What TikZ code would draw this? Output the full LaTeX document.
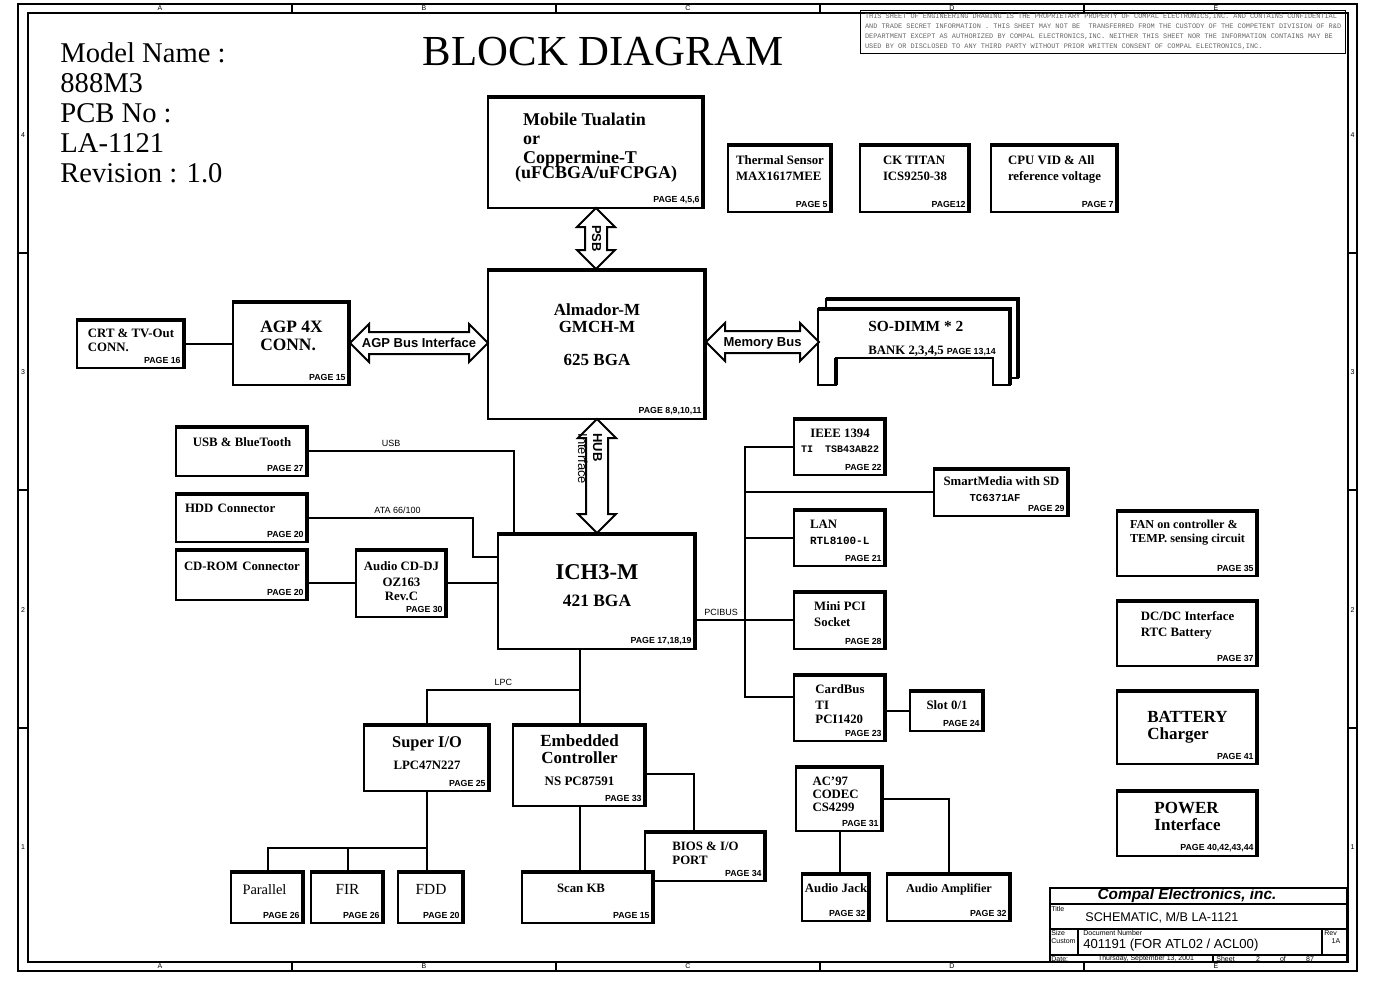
\documentclass[tikz,border=0pt]{standalone}
\usepackage{fontspec}
\setmainfont{Liberation Serif}
\setsansfont{Liberation Sans}
\setmonofont{Liberation Mono}
\usetikzlibrary{positioning, calc, shapes.arrows}

\begin{document}
\begin{tikzpicture}[x=0.5pt, y=-0.5pt,
    blk/.style={rectangle, draw=black, line width=1pt, fill=white, inner sep=0pt,
                align=left, font={\bfseries\fontsize{6.4}{8}\selectfont},
                path picture={\draw[line width=3pt]
                  (path picture bounding box.north west) -- (path picture bounding box.north east)
                  -- (path picture bounding box.south east);}},
    wh/.style 2 args={minimum width=#1*0.5pt, minimum height=#2*0.5pt, anchor=north west},
    pg/.style={anchor=south east, inner sep=2.5pt, font={\sffamily\bfseries\fontsize{4.4}{5}\selectfont}},
    wire/.style={line width=1pt},
    bus/.style={double arrow, draw=black, line width=1pt, fill=white,
                double arrow head extend=4pt, inner xsep=0pt, inner ysep=2pt,
                text height=5pt, text depth=1pt,
                font={\sffamily\bfseries\fontsize{6.5}{7}\selectfont}},
    sig/.style={inner sep=1.5pt, font={\sffamily\fontsize{4.5}{5}\selectfont}},
    tbtxt/.style={inner sep=0pt, font={\sffamily\fontsize{3.5}{4}\selectfont}}
]
\useasboundingbox (0,0) rectangle (1400,990);

% sheet frame
\draw[line width=0.6pt] (18,4) rectangle (1357,971);
\draw[line width=0.6pt] (28,13) rectangle (1348,962);
\foreach \x/\zl in {160/A,424/B,688/C,952/D,1216/E} {
  \node[tbtxt] (top\zl) at (\x,8.5) {\zl};
  \node[tbtxt] (bot\zl) at (\x,966.5) {\zl};
}
\foreach \x in {292,556,820,1084} {
  \draw[line width=0.6pt] (\x,4) -- (\x,13) (\x,962) -- (\x,971);
}
\foreach \y/\zl in {135/4,372/3,610/2,847/1} {
  \node[tbtxt] (lft\zl) at (23,\y) {\zl};
  \node[tbtxt] (rgt\zl) at (1352.5,\y) {\zl};
}
\foreach \y in {253,490,728} {
  \draw[line width=0.6pt] (18,\y) -- (28,\y) (1348,\y) -- (1357,\y);
}

\node[anchor=north west, align=left, inner sep=0pt, font={\fontsize{14.3}{15}\selectfont}] (model) at (60,42)
  {Model Name :\\888M3\\PCB No :\\LA-1121\\Revision : 1.0};
\node[inner sep=0pt, font={\fontsize{21.4}{22}\selectfont}] (title) at (603,52) {BLOCK DIAGRAM};
\node[draw, line width=0.6pt, wh={485}{43}, align=left, inner sep=0pt, text=black!60,
      font={\ttfamily\fontsize{3.45}{5}\selectfont}] (notice) at (860,10) {%
  THIS SHEET OF ENGINEERING DRAWING IS THE PROPRIETARY PROPERTY OF COMPAL ELECTRONICS,INC. AND CONTAINS CONFIDENTIAL\\
  AND TRADE SECRET INFORMATION . THIS SHEET MAY NOT BE\ \ TRANSFERRED FROM THE CUSTODY OF THE COMPETENT DIVISION OF R\&D\\
  DEPARTMENT EXCEPT AS AUTHORIZED BY COMPAL ELECTRONICS,INC. NEITHER THIS SHEET NOR THE INFORMATION CONTAINS MAY BE\\
  USED BY OR DISCLOSED TO ANY THIRD PARTY WITHOUT PRIOR WRITTEN CONSENT OF COMPAL ELECTRONICS,INC.};

% CPU row
\node[blk, wh={216}{112}, font={\bfseries\fontsize{9}{9.5}\selectfont}, text depth=6.5pt,
      label={[pg]south east:{PAGE 4,5,6}}] (cpu) at (487,95)
  {\hspace*{4pt}Mobile Tualatin\\\hspace*{4pt}or\\\hspace*{4pt}Coppermine-T\\[-2pt](uFCBGA/uFCPGA)};
\node[blk, wh={104}{68}, text depth=10pt, label={[pg]south east:{PAGE 5}}] (therm) at (727,143)
  {Thermal Sensor\\MAX1617MEE};
\node[blk, wh={110}{68}, text depth=10pt, label={[pg]south east:{PAGE12}}] (cktitan) at (859,143)
  {CK TITAN\\ICS9250-38};
\node[blk, wh={127}{68}, text depth=10pt, label={[pg]south east:{PAGE 7}}] (cpuvid) at (990,143)
  {CPU VID \& All\\reference voltage};

% north bridge
\node[blk, wh={218}{150}, align=center, font={\bfseries\fontsize{8.5}{8.5}\selectfont}, text depth=9pt,
      label={[pg]south east:{PAGE 8,9,10,11}}] (gmch) at (487,268)
  {Almador-M\\GMCH-M\\[8pt]625 BGA};
\node[blk, wh={108}{49}, font={\bfseries\fontsize{6.4}{7}\selectfont}, text depth=3pt,
      label={[pg]south east:{PAGE 16}}] (crt) at (76,318) {CRT \& TV-Out\\CONN.};
\node[blk, wh={117}{84}, font={\bfseries\fontsize{8.7}{9}\selectfont}, text depth=7pt,
      label={[pg]south east:{PAGE 15}}] (agp) at (232,300) {AGP 4X\\CONN.};
\node[bus, minimum height=138*0.5pt] (agpbus) at ($(agp.east)!.5!(gmch.west |- agp.east)$)
  {\makebox[0pt]{AGP Bus Interface}};
\node[bus, rotate=-90, minimum height=61*0.5pt] (psb) at ($(cpu.south)!.5!(cpu.south |- gmch.north)$)
  {\makebox[0pt]{PSB}};

% SO-DIMM
\draw[line width=1pt] (826,309) -- (826,299) -- (1018,299) -- (1018,378) -- (1010,378);
\draw[line width=2pt] (826,299) -- (1018,299) -- (1018,378);
\draw[line width=1pt, fill=white] (818,309) -- (1010,309) -- (1010,385) -- (993,385) -- (993,358)
  -- (836,358) -- (836,385) -- (818,385) -- cycle;
\draw[line width=2pt] (818,309) -- (1010,309) -- (1010,385) (836,385) -- (836,358);
\node[anchor=west, align=left, inner sep=0pt, font={\bfseries\fontsize{6.4}{11.5}\selectfont}] (dimm) at (868,339)
  {{\fontsize{7.7}{11.5}\selectfont SO-DIMM * 2}\\BANK 2,3,4,5 {\sffamily\fontsize{4.4}{5}\selectfont PAGE 13,14}};
\coordinate (dimmport) at (818,342);
\node[bus, minimum height=113*0.5pt] (membus) at ($(gmch.east |- dimmport)!.5!(dimmport)$)
  {\makebox[0pt]{Memory Bus}};

% south bridge
\node[blk, wh={198}{116}, align=center, font={\bfseries\fontsize{11.3}{13.5}\selectfont}, text depth=5pt,
      label={[pg]south east:{PAGE 17,18,19}}] (ich) at (497,532)
  {ICH3-M\\{\fontsize{8.7}{13.5}\selectfont 421 BGA}};
\node[bus, rotate=-90, minimum height=114*0.5pt] (hub) at ($(gmch.south)!.5!(gmch.south |- ich.north)$) {};
\node[rotate=-90, anchor=west, align=left, inner sep=0pt, font={\sffamily\fontsize{6.5}{7.5}\selectfont}] (hubtxt)
  at ($(hub.center)+(-7,-43)$) {\textbf{HUB}\\Interface};

\node[blk, wh={132}{50}, text depth=9pt, label={[pg]south east:{PAGE 27}}] (usb) at (175,425) {USB \& BlueTooth};
\node[blk, wh={132}{49}, text width=57pt, text depth=9pt, label={[pg]south east:{PAGE 20}}] (hdd) at (175,492)
  {HDD Connector};
\node[blk, wh={132}{51}, text width=58pt, text depth=8pt, label={[pg]south east:{PAGE 20}}] (cdrom) at (175,548)
  {CD-ROM Connector};
\node[blk, wh={91}{68}, align=center, text depth=2pt, label={[pg]south east:{PAGE 30}}] (cddj) at (355,548)
  {Audio CD-DJ\\OZ163\\[-1pt]Rev.C};

% PCI devices
\node[blk, wh={92}{57}, align=center, text depth=6pt, label={[pg]south east:{PAGE 22}}] (ieee) at (793,417)
  {IEEE 1394\\[-0.5pt]{\ttfamily\fontsize{5}{7.5}\selectfont TI\ \ TSB43AB22}};
\node[blk, wh={135}{48}, align=center, text depth=3pt, label={[pg]south east:{PAGE 29}}] (smart) at (933,467)
  {SmartMedia with SD\\{\ttfamily\fontsize{5.3}{7.5}\selectfont TC6371AF}\hspace*{6.5pt}};
\node[blk, wh={92}{57}, text width=30pt, text depth=13pt, label={[pg]south east:{PAGE 21}}] (lan) at (793,508)
  {LAN\\{\ttfamily\fontsize{5.5}{7.5}\selectfont RTL8100-L}};
\node[blk, wh={92}{58}, text depth=6pt, label={[pg]south east:{PAGE 28}}] (minipci) at (793,590)
  {Mini PCI\\Socket};
\node[blk, wh={92}{67}, text depth=3pt, label={[pg]south east:{PAGE 23}}] (cardbus) at (793,673)
  {CardBus\\TI\\[-1pt]PCI1420};
\node[blk, wh={74}{41}, text depth=5pt, label={[pg]south east:{PAGE 24}}] (slot) at (909,689) {Slot 0/1};

% power side
\node[blk, wh={141}{66}, font={\bfseries\fontsize{6.1}{7}\selectfont}, text depth=12pt,
      label={[pg]south east:{PAGE 35}}] (fan) at (1116,509) {FAN on controller \&\\TEMP. sensing circuit};
\node[blk, wh={141}{66}, text depth=9pt, label={[pg]south east:{PAGE 37}}] (dcdc) at (1116,599)
  {DC/DC Interface\\RTC Battery};
\node[blk, wh={141}{74}, font={\bfseries\fontsize{8.5}{8.5}\selectfont}, text depth=2pt,
      label={[pg]south east:{PAGE 41}}] (charger) at (1116,689) {BATTERY\\Charger};
\node[blk, wh={141}{66}, font={\bfseries\fontsize{8.5}{8.5}\selectfont}, text depth=7pt,
      label={[pg]south east:{PAGE 40,42,43,44}}] (power) at (1116,789) {POWER\\Interface};

% LPC devices
\node[blk, wh={126}{67}, align=center, text depth=4pt, label={[pg]south east:{PAGE 25}}] (sio) at (363,723)
  {{\fontsize{8.2}{8}\selectfont Super I/O}\\[3pt]LPC47N227};
\node[blk, wh={133}{82}, align=center, font={\bfseries\fontsize{8.5}{8.5}\selectfont}, text depth=5pt,
      label={[pg]south east:{PAGE 33}}] (ec) at (512,723)
  {Embedded\\Controller\\[2.5pt]{\fontsize{6.5}{8.5}\selectfont NS PC87591}};
\node[blk, wh={121}{50}, font={\bfseries\fontsize{6.4}{6.8}\selectfont}, text depth=3pt,
      label={[pg]south east:{PAGE 34}}] (bios) at (644,830) {BIOS \& I/O\\PORT};
\node[blk, wh={73}{52}, font={\fontsize{7.2}{8}\selectfont}, text width=25pt, text depth=8pt,
      label={[pg]south east:{PAGE 26}}] (par) at (230,870) {Parallel};
\node[blk, wh={73}{52}, font={\fontsize{7.7}{8}\selectfont}, text depth=8pt,
      label={[pg]south east:{PAGE 26}}] (fir) at (310,870) {FIR};
\node[blk, wh={66}{52}, font={\fontsize{7.7}{8}\selectfont}, text depth=8pt,
      label={[pg]south east:{PAGE 20}}] (fdd) at (397,870) {FDD};
\node[blk, wh={132}{52}, text depth=9pt, label={[pg]south east:{PAGE 15}}] (scan) at (521,870)
  {Scan KB\hspace*{7pt}};

% audio
\node[blk, wh={87}{65}, font={\bfseries\fontsize{6.4}{6.5}\selectfont}, text width=27pt, text depth=17.5pt,
      label={[pg]south east:{PAGE 31}}] (ac) at (795,765) {AC'97\\CODEC\\CS4299};
\node[blk, wh={68}{48}, text depth=9pt, label={[pg]south east:{PAGE 32}}] (jack) at (801,872) {Audio Jack};
\node[blk, wh={124}{48}, font={\bfseries\fontsize{6.1}{7}\selectfont}, text depth=9pt,
      label={[pg]south east:{PAGE 32}}] (amp) at (886,872) {Audio Amplifier};

% connections
\draw[wire] (crt.east) -- (crt.east -| agp.west);
\draw[wire] (usb.east) -| node[sig, above, pos=0.2] (usbtxt) {USB} ($(ich.north west)+(17,0)$);
\draw[wire] (hdd.east) -| node[sig, above, pos=0.27] (atatxt) {ATA 66/100} ($(ich.west)+(-24,-34)$)
  -- ($(ich.west)+(0,-34)$);
\draw[wire] (cdrom.east |- cddj.west) -- (cddj.west);
\draw[wire] (cddj.east) -- (cddj.east -| ich.west);
\draw[wire] (ich.east |- minipci.west) -- node[sig, above, pos=0.25] (pcitxt) {PCIBUS} (minipci.west);
\coordinate (pci) at ($(ieee.west)+(-48,0)$);
\draw[wire] (ieee.west) -- (pci) |- ($(cardbus.north west)+(0,24)$);
\draw[wire] (pci |- smart.west) -- (smart.west);
\draw[wire] (pci |- lan.west) -- (lan.west);
\draw[wire] (slot.west) -- (slot.west -| cardbus.east);
\draw[wire] (ich.south -| ec.north) -- (ec.north);
\draw[wire] ($(ec.north)+(0,-33)$) -| node[sig, above, pos=0.25] (lpctxt) {LPC} (sio.north);
\coordinate (sioj) at ($(sio.south)+(0,56)$);
\draw[wire] (sio.south) -- (sioj) -- (sioj |- fdd.north);
\draw[wire] (sioj) -| (par.north);
\draw[wire] (fir.north |- sioj) -- (fir.north);
\draw[wire] (ec.south) -- (ec.south |- scan.north);
\draw[wire] ($(ec.east)+(0,9)$) -| ($(bios.north west)+(50,0)$);
\draw[wire] (ac.south) -- (ac.south |- jack.north);
\draw[wire] (ac.east) -| (amp.north);

% title block
\draw[line width=0.8pt] (1050,888) rectangle (1347,962);
\draw[line width=0.6pt] (1050,904) -- (1347,904) (1050,929) -- (1347,929) (1050,955) -- (1347,955)
  (1078,929) -- (1078,955) (1322,929) -- (1322,955) (1213,955) -- (1213,962);
\node[font={\sffamily\bfseries\itshape\fontsize{7.7}{8}\selectfont}, inner sep=0pt] (compal) at (1187,896)
  {Compal Electronics, inc.};
\node[tbtxt, anchor=west] (ttllbl) at (1051,909) {Title};
\node[anchor=west, inner sep=0pt, font={\sffamily\fontsize{6.3}{7}\selectfont}] (sheetname) at (1085,918)
  {SCHEMATIC, M/B LA-1121};
\node[tbtxt, anchor=west] (sizelbl) at (1051,933) {Size};
\node[tbtxt, anchor=west] (sizeval) at (1051,941) {Custom};
\node[tbtxt, anchor=west] (doclbl) at (1083,933) {Document Number};
\node[anchor=west, inner sep=0pt, font={\sffamily\fontsize{6.55}{7}\selectfont}] (docnum) at (1083,945)
  {401191 (FOR ATL02 / ACL00)};
\node[tbtxt, anchor=west] (revlbl) at (1324,933) {Rev};
\node[tbtxt] (revval) at (1336,941) {1A};
\node[tbtxt, anchor=west] (datelbl) at (1051,959) {Date:};
\node[tbtxt] (dateval) at (1146,959) {Thursday, September 13, 2001};
\node[tbtxt, anchor=west] (sheetlbl) at (1216,959) {Sheet};
\node[tbtxt] (sheetno) at (1258,959) {2};
\node[tbtxt] (oflbl) at (1283,959) {of};
\node[tbtxt] (sheetall) at (1310,959) {87};

\end{tikzpicture}
\end{document}
